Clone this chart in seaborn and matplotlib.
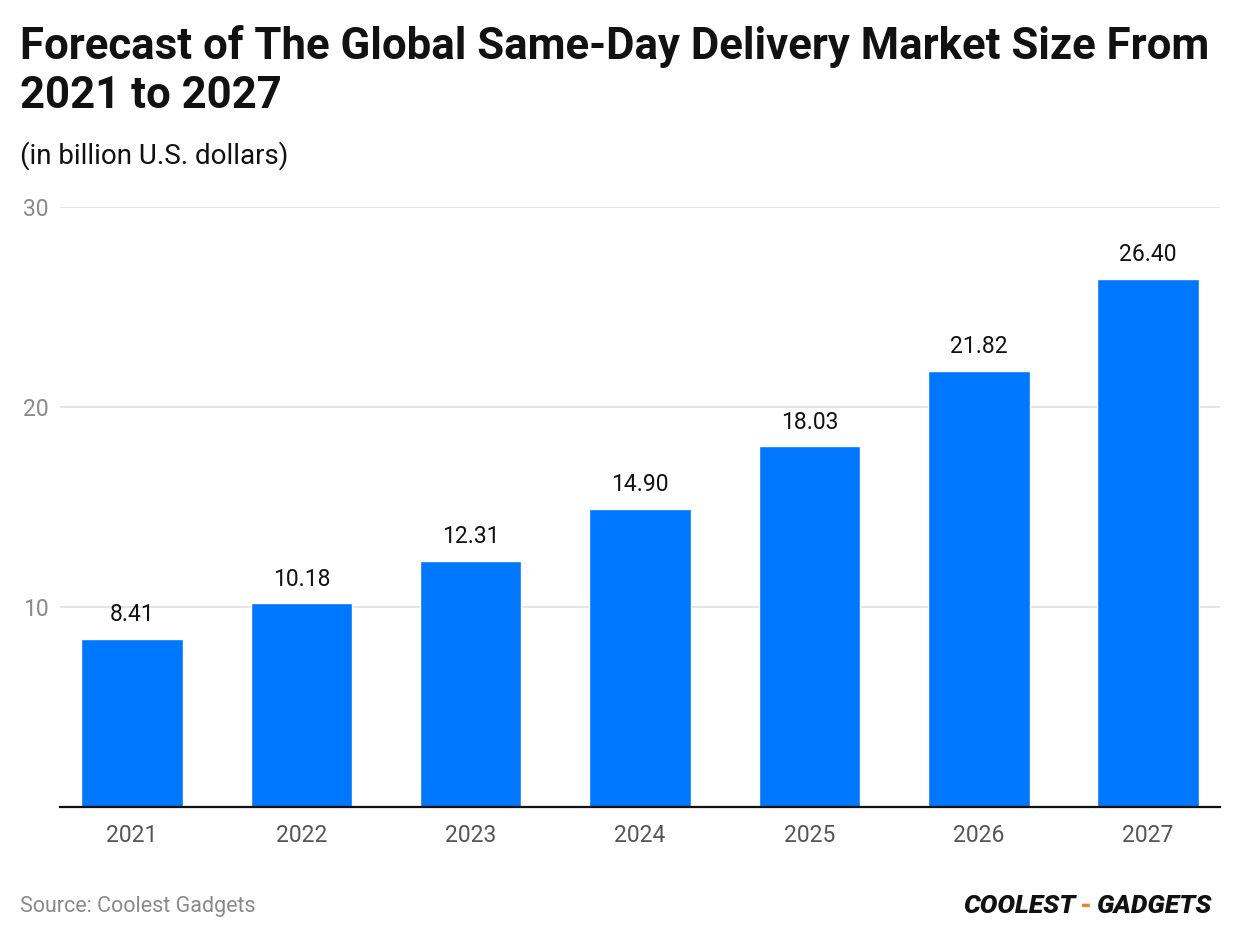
import matplotlib
matplotlib.use('Agg')
import matplotlib.pyplot as plt
import seaborn as sns
import pandas as pd

# data
years = ['2021', '2022', '2023', '2024', '2025', '2026', '2027']
market_size = [8.41, 10.18, 12.31, 14.90, 18.03, 21.82, 26.40]
y_ticks = [10, 20, 30]

df = pd.DataFrame({'year': years, 'size': market_size})

sns.set_theme(style='white')
plt.rcParams['font.family'] = ['Roboto', 'DejaVu Sans']

fig = plt.figure(figsize=(12.4, 9.4), dpi=100)
ax = fig.add_axes([0.0484, 0.1415, 0.9355, 0.6383])

sns.barplot(data=df, x='year', y='size', color='#0077ff', saturation=1,
            width=0.6, ax=ax, zorder=3)

ax.set_xlim(-0.425, 6.425)
ax.set_ylim(0, 30)
ax.set_yticks(y_ticks)
ax.set_yticklabels([str(t) for t in y_ticks], fontsize=16.5, color='#8a8a8a')
ax.yaxis.grid(True, color='#e0e0e0', linewidth=1.2, zorder=0)
ax.tick_params(axis='y', length=0, pad=8)
ax.tick_params(axis='x', length=0, pad=12, labelsize=16.5, labelcolor='#555555')
ax.set_xlabel('')
ax.set_ylabel('')
for s in ['top', 'right', 'left']:
    ax.spines[s].set_visible(False)
ax.spines['bottom'].set_color('#111111')
ax.spines['bottom'].set_linewidth(1.6)
ax.spines['bottom'].set_zorder(4)

# value labels
for i, v in enumerate(market_size):
    ax.annotate(f'{v:.2f}', (i, v), xytext=(0, 9), textcoords='offset points',
                ha='center', va='bottom', fontsize=16.5, color='#111111')

fig.text(0.016, 0.973, 'Forecast of The Global Same-Day Delivery Market Size From\n2021 to 2027',
         fontsize=31.5, fontweight='bold', ha='left', va='top', color='#111111',
         linespacing=1.2)
fig.text(0.016, 0.834, '(in billion U.S. dollars)', fontsize=20, ha='left', va='center',
         color='#111111')
fig.text(0.016, 0.036, 'Source: Coolest Gadgets', fontsize=15.5, ha='left', va='center',
         color='#8a8a8a')

# logo
fig.text(0.777, 0.036, 'COOLEST', fontsize=19, fontweight='black', fontstyle='italic',
         ha='left', va='center', color='#111111')
fig.text(0.8755, 0.036, '-', fontsize=19, fontweight='black', ha='center', va='center',
         color='#f07f2e')
fig.text(0.884, 0.036, 'GADGETS', fontsize=19, fontweight='black', fontstyle='italic',
         ha='left', va='center', color='#111111')

fig.savefig('out.png', dpi=100)
